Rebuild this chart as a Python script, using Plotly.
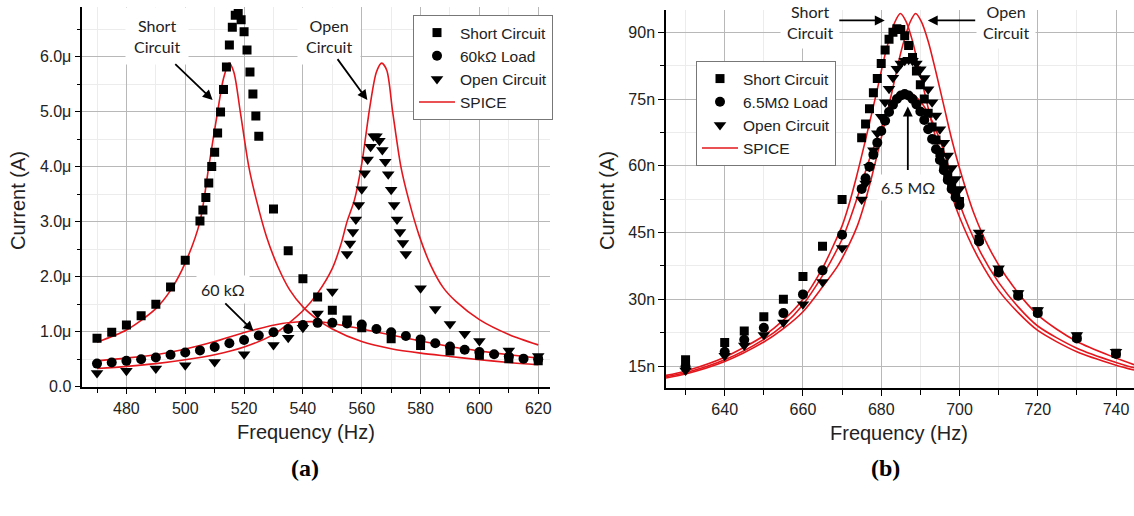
import plotly.graph_objects as go

W, H = 1134, 516

# ---------------- Panel (a) data (current in µA) ----------------
a_sc_f = [470, 475, 480, 485, 490, 495, 500, 505, 506, 507, 508, 509, 510, 511, 512, 513, 514, 515,
          516, 517, 518, 519, 520, 521, 522, 523, 524, 525, 530, 535, 540, 545, 550, 555, 560, 570,
          580, 590, 600, 610, 620]
a_sc_i = [0.88, 0.99, 1.12, 1.29, 1.50, 1.81, 2.30, 3.01, 3.21, 3.44, 3.70, 4.00, 4.26, 4.61, 4.99,
          5.40, 5.81, 6.21, 6.53, 6.75, 6.78, 6.67, 6.45, 6.12, 5.72, 5.32, 4.92, 4.55, 3.23, 2.47,
          1.96, 1.63, 1.39, 1.21, 1.07, 0.87, 0.75, 0.65, 0.57, 0.51, 0.47]

a_ld_f = [470, 475, 480, 485, 490, 495, 500, 505, 510, 515, 520, 525, 530, 535, 540, 545, 550, 555,
          560, 565, 570, 575, 580, 585, 590, 595, 600, 605, 610, 615, 620]
a_ld_i = [0.42, 0.44, 0.47, 0.50, 0.53, 0.58, 0.62, 0.66, 0.72, 0.79, 0.85, 0.93, 0.99, 1.05, 1.12,
          1.16, 1.16, 1.15, 1.13, 1.05, 0.99, 0.92, 0.86, 0.79, 0.73, 0.67, 0.63, 0.59, 0.55, 0.51, 0.50]

a_oc_f = [470, 480, 490, 500, 510, 520, 530, 535, 540, 545, 550, 555, 556, 557, 558, 559, 560, 561,
          562, 563, 564, 565, 566, 567, 568, 569, 570, 571, 572, 573, 574, 575, 580, 585, 590, 595,
          600, 610, 620]
a_oc_i = [0.25, 0.29, 0.33, 0.39, 0.45, 0.59, 0.76, 0.89, 1.07, 1.33, 1.73, 2.41, 2.60, 2.81, 3.04,
          3.30, 3.59, 3.88, 4.13, 4.36, 4.55, 4.55, 4.47, 4.30, 4.09, 3.86, 3.58, 3.30, 3.04, 2.81,
          2.61, 2.41, 1.79, 1.41, 1.14, 0.96, 0.83, 0.66, 0.56]

a_spice_sc_f = [470, 480, 490, 495, 500, 505, 508, 511, 513, 514.9, 516.5, 518.7, 521.6, 524.2, 527.6,
                531.5, 535.5, 540, 545, 550, 560, 570, 580, 590, 600, 610, 620]
a_spice_sc_i = [0.81, 1.03, 1.42, 1.75, 2.25, 3.0, 4.0, 5.0, 5.6, 5.88, 5.72, 5.0, 4.0, 3.39, 2.73,
                2.18, 1.76, 1.45, 1.22, 1.05, 0.82, 0.69, 0.61, 0.55, 0.49, 0.44, 0.40]

a_spice_oc_f = [470, 480, 490, 500, 510, 520, 530, 540, 545, 550, 553, 555, 557.5, 560, 562.8, 565,
                566.8, 568.5, 570.5, 573.3, 576, 579.5, 583.5, 587.7, 592, 600, 610, 620]
a_spice_oc_i = [0.33, 0.37, 0.42, 0.49, 0.58, 0.72, 0.95, 1.38, 1.70, 2.15, 2.6, 3.0, 3.39, 4.05,
                5.1, 5.72, 5.88, 5.75, 5.0, 4.0, 3.39, 2.75, 2.2, 1.80, 1.55, 1.22, 0.95, 0.76]

a_spice_ld_f = [470, 480, 490, 499, 510, 521, 533, 540, 545, 550, 560, 570, 580, 590, 600, 610, 620]
a_spice_ld_i = [0.47, 0.52, 0.58, 0.67, 0.82, 1.0, 1.15, 1.18, 1.18, 1.15, 1.05, 0.94, 0.83, 0.73,
                0.65, 0.58, 0.52]

a_yticks = [0, 1, 2, 3, 4, 5, 6]
a_ylabels = ["0.0", "1.0μ", "2.0μ", "3.0μ", "4.0μ", "5.0μ", "6.0μ"]
a_yminor = [0.5, 1.5, 2.5, 3.5, 4.5, 5.5, 6.5]

# ---------------- Panel (b) data (current in nA) ----------------
b_f = [630, 640, 645, 650, 655, 660, 665, 670, 675, 676, 677, 678, 679, 680, 681, 682, 683, 684,
       685, 686, 687, 688, 689, 690, 691, 692, 693, 694, 695, 696, 697, 698, 699, 700, 705, 710,
       715, 720, 730, 740]
b_sc_i = [16.4, 20.3, 22.9, 26.1, 30.0, 35.1, 41.9, 52.4, 66.3, 69.4, 72.8, 76.4, 79.6, 83.0, 86.0,
          88.4, 90.0, 90.8, 90.6, 89.2, 87.0, 84.3, 81.3, 78.2, 75.0, 71.8, 68.7, 65.8, 63.0, 60.4,
          58.0, 55.8, 53.8, 52.0, 43.5, 36.3, 31.0, 27.2, 21.5, 17.9]
b_ld_i = [14.9, 18.2, 20.9, 23.6, 26.9, 31.1, 36.5, 44.5, 54.8, 57.2, 59.8, 62.5, 65.2, 67.8, 70.1,
          72.1, 73.7, 75.0, 75.8, 76.1, 75.8, 75.0, 73.8, 72.2, 70.3, 68.2, 66.0, 63.7, 61.3, 59.0,
          56.8, 54.8, 52.9, 51.2, 43.0, 36.0, 30.8, 26.9, 21.2, 17.7]
b_oc_i = [14.0, 17.3, 19.6, 22.0, 24.8, 28.9, 33.9, 41.5, 52.4, 56.0, 59.8, 63.5, 67.3, 71.0, 74.3,
          77.3, 79.8, 81.8, 83.0, 83.6, 83.8, 83.6, 83.0, 81.7, 79.7, 77.2, 74.3, 71.3, 68.2, 65.2,
          62.3, 59.5, 57.0, 54.8, 45.0, 37.0, 31.4, 27.6, 22.0, 18.2]

b_spice_sc_f = [625, 630, 640, 650, 655, 660, 665, 668, 670, 671.5, 673.7, 676.2, 678.8, 681.3, 683.5,
                684.9, 686.3, 688, 690, 692, 694, 696, 698, 700, 705, 710, 715, 720, 730, 740, 744.6]
b_spice_sc_i = [12.9, 13.9, 17.0, 21.8, 25.3, 30.0, 37.0, 42.5, 46.5, 50.5, 57.6, 66.6, 76.4, 86.1,
                92.3, 94.2, 92.5, 88.0, 80.5, 73.0, 66.0, 59.5, 53.5, 48.5, 39.0, 32.0, 27.0, 23.0,
                18.2, 15.2, 14.1]

b_spice_ld_f = [625, 630, 640, 650, 655, 660, 665, 668, 670, 672, 674.5, 677, 680, 682, 684, 686,
                686.9, 688, 690, 692, 694, 696, 698, 700, 705, 710, 715, 720, 730, 740, 744.6]
b_spice_ld_i = [12.6, 13.5, 16.4, 21.0, 24.2, 28.8, 35.3, 40.0, 43.5, 48.0, 54.5, 61.5, 68.5, 72.3,
                75.0, 76.3, 76.4, 76.1, 74.5, 71.8, 68.0, 63.2, 57.4, 51.5, 41.2, 33.8, 28.3, 24.0,
                19.0, 15.8, 14.6]

b_spice_oc_f = [625, 630, 640, 650, 655, 660, 665, 668.9, 671.9, 673.9, 675.4, 677.6, 680.1, 682.7,
                685.2, 687.4, 688.8, 690.2, 692, 694, 696, 698, 700, 703.6, 707.6, 712, 720, 730,
                740, 744.6]
b_spice_oc_i = [12.3, 13.2, 16.0, 20.4, 23.4, 27.2, 32.8, 37.5, 42.5, 46.5, 50.5, 57.6, 66.6, 76.4,
                86.1, 92.3, 94.2, 92.5, 88.0, 81.0, 73.5, 66.0, 59.5, 49.5, 41.5, 35.0, 26.5, 20.5,
                16.8, 15.3]

b_yticks = [15, 30, 45, 60, 75, 90]
b_ylabels = ["15n", "30n", "45n", "60n", "75n", "90n"]
b_yminor = [22.5, 37.5, 52.5, 67.5, 82.5]

# ---------------- styling ----------------
RED = "#e3171d"
TICKFONT = dict(family="Liberation Sans, Arial", size=16, color="#222")
ANNFONT = dict(family="Lato, Open Sans, sans-serif", size=16, color="#222")

fig = go.Figure()


def markers(x, y, sym, size, name, xa, ya, leg):
    fig.add_trace(go.Scatter(x=x, y=y, mode="markers", name=name, xaxis=xa, yaxis=ya, legend=leg,
                             marker=dict(symbol=sym, size=size, color="black", line=dict(width=0))))


def spice(x, y, xa, ya, leg, show):
    fig.add_trace(go.Scatter(x=x, y=y, mode="lines", name="SPICE", xaxis=xa, yaxis=ya, legend=leg,
                             legendgroup="spice" + leg, showlegend=show,
                             line=dict(color=RED, width=1.6, shape="spline", smoothing=0.8)))


# panel a
spice(a_spice_sc_f, a_spice_sc_i, "x", "y", "legend", False)
spice(a_spice_oc_f, a_spice_oc_i, "x", "y", "legend", False)
spice(a_spice_ld_f, a_spice_ld_i, "x", "y", "legend", False)
markers(a_sc_f, a_sc_i, "square", 9, "Short Circuit", "x", "y", "legend")
markers(a_ld_f, a_ld_i, "circle", 10, "60kΩ Load", "x", "y", "legend")
markers(a_oc_f, a_oc_i, "triangle-down", 11, "Open Circuit", "x", "y", "legend")
fig.add_trace(go.Scatter(x=[None], y=[None], mode="lines", name="SPICE", xaxis="x", yaxis="y",
                         legend="legend", line=dict(color=RED, width=1.4)))

# panel b
spice(b_spice_sc_f, b_spice_sc_i, "x2", "y2", "legend2", False)
spice(b_spice_ld_f, b_spice_ld_i, "x2", "y2", "legend2", False)
spice(b_spice_oc_f, b_spice_oc_i, "x2", "y2", "legend2", False)
markers(b_f, b_sc_i, "square", 9, "Short Circuit", "x2", "y2", "legend2")
markers(b_f, b_ld_i, "circle", 10, "6.5MΩ Load", "x2", "y2", "legend2")
markers(b_f, b_oc_i, "triangle-down", 11, "Open Circuit", "x2", "y2", "legend2")
fig.add_trace(go.Scatter(x=[None], y=[None], mode="lines", name="SPICE", xaxis="x2", yaxis="y2",
                         legend="legend2", line=dict(color=RED, width=1.4)))

axis_common = dict(showline=True, linecolor="black", linewidth=1.5, ticks="outside", ticklen=6,
                   tickwidth=1.2, tickcolor="black", showgrid=True, gridcolor="#b8b8b8", gridwidth=1,
                   zeroline=False, tickfont=TICKFONT, mirror=False, automargin=False)


def px_x(p):
    return p / W


def px_y(p):
    return 1 - p / H


LEGFONT = dict(family="Liberation Sans, Arial", size=15.5, color="#222")

fig.update_layout(
    width=W, height=H, autosize=False, margin=dict(l=0, r=0, t=0, b=0, pad=0),
    paper_bgcolor="white", plot_bgcolor="white",
    xaxis=dict(domain=[px_x(82.3), px_x(550)], range=[465, 624], tickmode="linear", tick0=480,
               dtick=20, anchor="y",
               minor=dict(tickmode="linear", tick0=470, dtick=10, ticks="outside", ticklen=5,
                          tickcolor="black", showgrid=True, gridcolor="#ececec"),
               **axis_common),
    yaxis=dict(domain=[px_y(386.7), px_y(7)], range=[0, 6.9], tickmode="array", tickvals=a_yticks,
               ticktext=a_ylabels, anchor="x",
               minor=dict(tickmode="array", tickvals=a_yminor, ticks="outside", ticklen=4,
                          tickcolor="black", showgrid=True, gridcolor="#ececec"),
               **axis_common),
    xaxis2=dict(domain=[px_x(666), px_x(1134)], range=[625, 744.6], tickmode="linear", tick0=640,
                dtick=20, anchor="y2",
                minor=dict(tickmode="linear", tick0=630, dtick=10, ticks="outside", ticklen=5,
                           tickcolor="black", showgrid=True, gridcolor="#ececec"),
                **axis_common),
    yaxis2=dict(domain=[px_y(388.3), px_y(10)], range=[10, 95], tickmode="array", tickvals=b_yticks,
                ticktext=b_ylabels, anchor="x2",
                minor=dict(tickmode="array", tickvals=b_yminor, ticks="outside", ticklen=4,
                           tickcolor="black", showgrid=True, gridcolor="#ececec"),
                **axis_common),
    legend=dict(x=px_x(413), y=px_y(15), xanchor="left", yanchor="top", bgcolor="white",
                bordercolor="#777", borderwidth=1, font=LEGFONT, tracegroupgap=0, itemwidth=36),
    legend2=dict(x=px_x(696), y=px_y(61), xanchor="left", yanchor="top", bgcolor="white",
                 bordercolor="#777", borderwidth=1, font=LEGFONT, tracegroupgap=0, itemwidth=36),
    showlegend=True,
)

ann = []
# text labels with white boxes
ann.append(dict(x=490.3, y=6.38, xref="x", yref="y", text="Short<br>Circuit", showarrow=False,
                font=ANNFONT, bgcolor="white", borderpad=8))
ann.append(dict(x=548.7, y=6.38, xref="x", yref="y", text="Open<br>Circuit", showarrow=False,
                font=ANNFONT, bgcolor="white", borderpad=8))
ann.append(dict(x=512.7, y=1.76, xref="x", yref="y", text="60 kΩ", showarrow=False,
                font=ANNFONT, bgcolor="white", borderpad=4))
ann.append(dict(x=661.8, y=92.2, xref="x2", yref="y2", text="Short<br>Circuit", showarrow=False,
                font=ANNFONT, bgcolor="white", borderpad=6))
ann.append(dict(x=711.8, y=92.2, xref="x2", yref="y2", text="Open<br>Circuit", showarrow=False,
                font=ANNFONT, bgcolor="white", borderpad=6))
ann.append(dict(x=686.8, y=55.1, xref="x2", yref="y2", text="6.5 MΩ", showarrow=False,
                font=ANNFONT, bgcolor="white", borderpad=3))

# arrows (head at x,y ; tail at ax,ay)
arrows = [
    ("x", "y", 509.3, 5.21, 496.1, 5.89),
    ("x", "y", 561.9, 5.21, 551.4, 5.98),
    ("x", "y", 523.2, 1.01, 513.1, 1.54),
    ("x2", "y2", 680.9, 92.65, 668.9, 92.65),
    ("x2", "y2", 691.9, 92.65, 704.4, 92.65),
    ("x2", "y2", 686.8, 73.3, 686.8, 58.7),
]
for xr, yr, hx, hy, tx, ty in arrows:
    ann.append(dict(x=hx, y=hy, xref=xr, yref=yr, ax=tx, ay=ty, axref=xr, ayref=yr, text="",
                    showarrow=True, arrowhead=2, arrowsize=1.1, arrowwidth=1.8, arrowcolor="black"))

# axis titles and panel labels (explicitly centred)
TITLEFONT = dict(family="Liberation Sans, Arial", size=20, color="#222")
PFONT = dict(family="Liberation Serif, Times New Roman", size=24, color="black")
paper_texts = [
    (18, 201, "Current (A)", -90, TITLEFONT),
    (607, 201, "Current (A)", -90, TITLEFONT),
    (306, 432, "Frequency (Hz)", 0, TITLEFONT),
    (899, 433, "Frequency (Hz)", 0, TITLEFONT),
    (305, 468, "<b>(a)</b>", 0, PFONT),
    (885, 468, "<b>(b)</b>", 0, PFONT),
]
for px, py, txt, ang, fnt in paper_texts:
    ann.append(dict(x=px_x(px), y=px_y(py), xref="paper", yref="paper", text=txt, textangle=ang,
                    xanchor="center", yanchor="middle", showarrow=False, font=fnt))

fig.update_layout(annotations=ann)

fig.write_html("out.html", config={"displayModeBar": False},
               post_script="document.body.style.margin='0';document.body.style.overflow='hidden';")
